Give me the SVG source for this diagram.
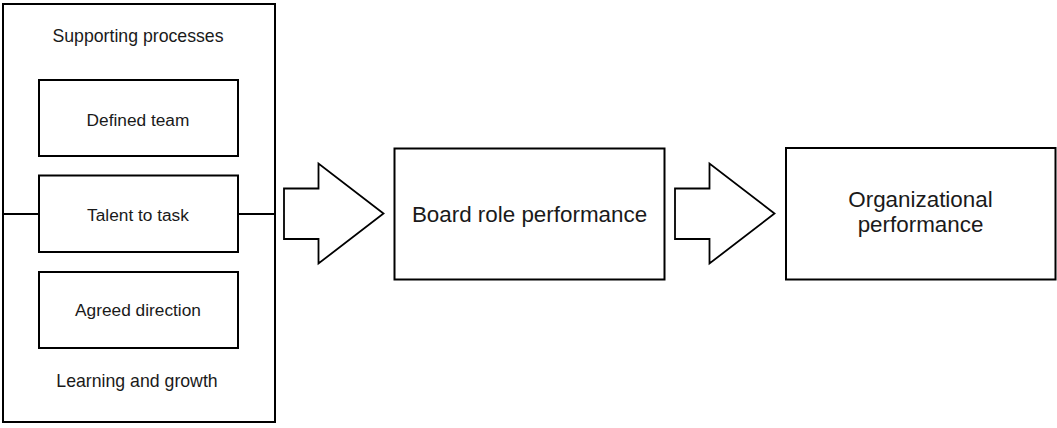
<svg xmlns="http://www.w3.org/2000/svg" width="1057" height="428" viewBox="0 0 1057 428">
  <style>
    .box { fill: #ffffff; stroke: #000000; stroke-width: 2; }
    .line { fill: none; stroke: #000000; stroke-width: 2; }
    .arrow { fill: #ffffff; stroke: #000000; stroke-width: 1.8; stroke-linejoin: miter; }
    .sm { font-family: "Liberation Sans", Arial, Helvetica, sans-serif; font-size: 17.3px; fill: #1a1a1a; text-anchor: middle; }
    .cap { font-size: 17.7px; }
    .lg { font-family: "Liberation Sans", Arial, Helvetica, sans-serif; font-size: 22.4px; fill: #1a1a1a; text-anchor: middle; }
  </style>
  <rect width="1057" height="428" fill="#ffffff"/>

  <!-- container: supporting processes / learning and growth -->
  <g id="supporting-processes">
    <rect class="box" x="3" y="4" width="272" height="418"/>
    <text class="sm cap" x="138" y="42">Supporting processes</text>
    <text class="sm cap" x="137" y="386.5">Learning and growth</text>
  </g>

  <!-- connectors: tie line through the container and block arrows -->
  <g id="connectors">
    <line class="line" x1="3" y1="214" x2="39" y2="214"/>
    <line class="line" x1="238" y1="214" x2="275" y2="214"/>
    <polygon class="arrow" points="284,188.5 318.5,188.5 318.5,163.5 383.5,213.5 318.5,263.5 318.5,239 284,239"/>
    <polygon class="arrow" points="675,188.5 709.5,188.5 709.5,163.5 774.5,213.5 709.5,263.5 709.5,239 675,239"/>
  </g>

  <g id="defined-team">
    <rect class="box" x="39" y="80" width="199" height="76"/>
    <text class="sm" x="138" y="126">Defined team</text>
  </g>

  <g id="talent-to-task">
    <rect class="box" x="39" y="175.5" width="199" height="76.5"/>
    <text class="sm" x="138" y="221">Talent to task</text>
  </g>

  <g id="agreed-direction">
    <rect class="box" x="39" y="272" width="199" height="76"/>
    <text class="sm" x="138" y="316">Agreed direction</text>
  </g>

  <g id="board-role-performance">
    <rect class="box" x="394.5" y="148.5" width="270" height="131"/>
    <text class="lg" x="529.5" y="221.5">Board role performance</text>
  </g>

  <g id="organizational-performance">
    <rect class="box" x="786" y="148" width="269.5" height="131.5"/>
    <text class="lg" x="920.5" y="206.5">Organizational</text>
    <text class="lg" x="920.5" y="231.5">performance</text>
  </g>
</svg>
